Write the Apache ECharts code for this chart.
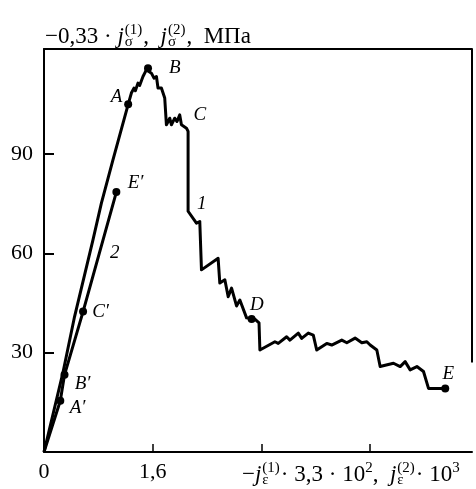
<!DOCTYPE html>
<html><head><meta charset="utf-8">
<script src="https://cdn.jsdelivr.net/npm/echarts@6/dist/echarts.min.js"></script>
<style>html,body{margin:0;padding:0;background:#fff}#c{width:476px;height:489px}</style>
</head><body><div id="c"></div>
<script>
// axis ranges and ticks
const X_MAX = 6.3, Y_MAX = 121.7;
const xTickValues = [1.6, 3.2, 4.8];
const xLabelValues = [0, 1.6];
const yTickValues = [30, 60, 90];

// curve 1 (compression, -0.33*j_sigma(1) vs -j_eps(1)*3.3e2)
const curve1X = [0, 0.277, 0.450, 0.720, 0.844, 1.015, 1.239, 1.286, 1.324, 1.345, 1.383, 1.408, 1.457, 1.507, 1.531,
  1.581, 1.604, 1.619, 1.655, 1.678, 1.728, 1.777, 1.802, 1.851, 1.876, 1.924, 1.958, 1.998, 2.023, 2.097, 2.121,
  2.121, 2.244, 2.293, 2.318, 2.563, 2.588, 2.662, 2.711, 2.761, 2.834, 2.883, 2.982, 3.056, 3.104, 3.165, 3.178,
  3.399, 3.448, 3.572, 3.620, 3.743, 3.793, 3.890, 3.964, 4.014, 4.162, 4.235, 4.383, 4.457, 4.579, 4.678, 4.752,
  4.801, 4.899, 4.948, 5.144, 5.243, 5.316, 5.390, 5.489, 5.586, 5.660, 5.906];
const curve1Y = [0, 23.8, 40.9, 64.0, 75.1, 88.2, 105.0, 108.4, 109.9, 109.1, 111.4, 110.7, 113.4, 115.4, 115.9,
  114.4, 114.9, 112.9, 113.4, 109.9, 109.9, 106.9, 98.8, 100.8, 98.8, 100.8, 99.8, 101.8, 98.8, 97.8, 96.8,
  72.7, 69.1, 69.6, 55.0, 58.5, 51.0, 52.0, 46.9, 49.5, 44.1, 45.9, 40.5, 40.2, 40.1, 39.0, 30.8,
  33.3, 32.8, 34.8, 33.8, 35.9, 34.3, 35.9, 35.3, 30.8, 32.8, 32.3, 33.8, 33.0, 34.4, 33.0, 33.3,
  32.3, 30.8, 25.8, 26.8, 25.8, 27.3, 24.8, 25.8, 24.3, 19.2, 19.2];
const curve1DotIdx = [6, 14, 43, 73];

// curve 2 (tension)
const curve2X = [0, 0.240, 0.302, 0.575, 1.065];
const curve2Y = [0, 15.5, 23.3, 42.4, 78.5];
const curve2DotIdx = [1, 2, 3, 4];

// point names
const noteText = ['A', 'B', 'C', '1', 'D', 'E', 'E\u2032', '2', 'C\u2032', 'B\u2032', 'A\u2032'];
const noteX = [1.069, 1.924, 2.293, 2.323, 3.134, 5.951, 1.349, 1.040, 0.833, 0.568, 0.494];
const noteY = [107.2, 116.0, 101.8, 74.9, 44.4, 23.6, 81.3, 60.1, 42.3, 20.5, 13.3];
const RIGHT_BORDER_END = 27;

const serif = '"Liberation Serif", "DejaVu Serif", serif';
const zip = (xs, ys) => xs.map((x, i) => [x, ys[i]]);
const c1 = zip(curve1X, curve1Y), c2 = zip(curve2X, curve2Y);
const base = {fontFamily: serif, color: '#000', fontWeight: 'normal'};
const rich = {
  n: Object.assign({fontSize: 23}, base),
  i: Object.assign({fontSize: 23, fontStyle: 'italic'}, base),
  sb: Object.assign({fontSize: 15, padding: [11, 0, 0, 1], width: 0}, base),
  sp: Object.assign({fontSize: 15, padding: [0, 1, 12, 0]}, base),
  sq: Object.assign({fontSize: 15, padding: [0, 0, 12, 0]}, base)
};
const chart = echarts.init(document.getElementById('c'), null, {renderer: 'canvas'});
chart.setOption({
  animation: false,
  backgroundColor: '#fff',
  title: [
    {text: '{n|\u22120,33 \u00b7 }{i|j}{sb|\u03c3}{sp|(1)}{n|,  }{i|j}{sb|\u03c3}{sp|(2)}{n|,  \u041c\u041f\u0430}',
     left: 40, top: 18, textStyle: Object.assign({rich: rich, fontSize: 23}, base)},
    {text: '{n|\u2212}{i|j}{sb|\u03b5}{sp|(1)}{n|\u00b7 3,3 \u00b7 10}{sq|2}{n|,  }{i|j}{sb|\u03b5}{sp|(2)}{n|\u00b7 10}{sq|3}',
     left: 237, top: 456, textStyle: Object.assign({rich: rich, fontSize: 23}, base)}
  ],
  grid: {left: 44, right: 4, top: 49, bottom: 37},
  xAxis: [{
    type: 'value', min: 0, max: X_MAX, interval: 1.6,
    axisLine: {show: true, onZero: false, lineStyle: {color: '#000', width: 2}},
    axisTick: {show: true, inside: true, length: 8, customValues: xTickValues, lineStyle: {color: '#000', width: 1.5}},
    axisLabel: {customValues: xLabelValues, formatter: v => String(v).replace('.', ','), fontFamily: serif, fontSize: 22, color: '#000', margin: 9},
    splitLine: {show: false}
  }, {
    type: 'value', position: 'top', min: 0, max: X_MAX,
    axisLine: {show: true, onZero: false, lineStyle: {color: '#000', width: 2}},
    axisTick: {show: false}, axisLabel: {show: false}, splitLine: {show: false}
  }],
  yAxis: {
    type: 'value', min: 0, max: Y_MAX, interval: 30,
    axisLine: {show: true, onZero: false, lineStyle: {color: '#000', width: 2}},
    axisTick: {show: true, inside: true, length: 10, customValues: yTickValues, lineStyle: {color: '#000', width: 2}},
    axisLabel: {customValues: yTickValues, fontFamily: serif, fontSize: 22, color: '#000', margin: 11},
    splitLine: {show: false}
  },
  series: [
    {type: 'line', data: c1, symbol: 'none', lineStyle: {color: '#000', width: 3, join: 'round'}, silent: true,
     markLine: {silent: true, symbol: 'none', label: {show: false}, lineStyle: {color: '#000', width: 2, type: 'solid'},
       data: [[{coord: [X_MAX, Y_MAX]}, {coord: [X_MAX, RIGHT_BORDER_END]}]]}},
    {type: 'line', data: c2, symbol: 'none', lineStyle: {color: '#000', width: 3}, silent: true},
    {type: 'scatter', data: curve1DotIdx.map(i => c1[i]).concat(curve2DotIdx.map(i => c2[i])),
     symbolSize: 8, itemStyle: {color: '#000', opacity: 1}, silent: true},
    {type: 'scatter', symbolSize: 0, silent: true, itemStyle: {color: '#000', opacity: 1},
     data: noteText.map((t, i) => ({name: t, value: [noteX[i], noteY[i]]})),
     label: {show: true, position: 'inside', formatter: p => p.name, fontFamily: serif, fontStyle: 'italic', fontSize: 19, color: '#000'}}
  ]
});
</script></body></html>
